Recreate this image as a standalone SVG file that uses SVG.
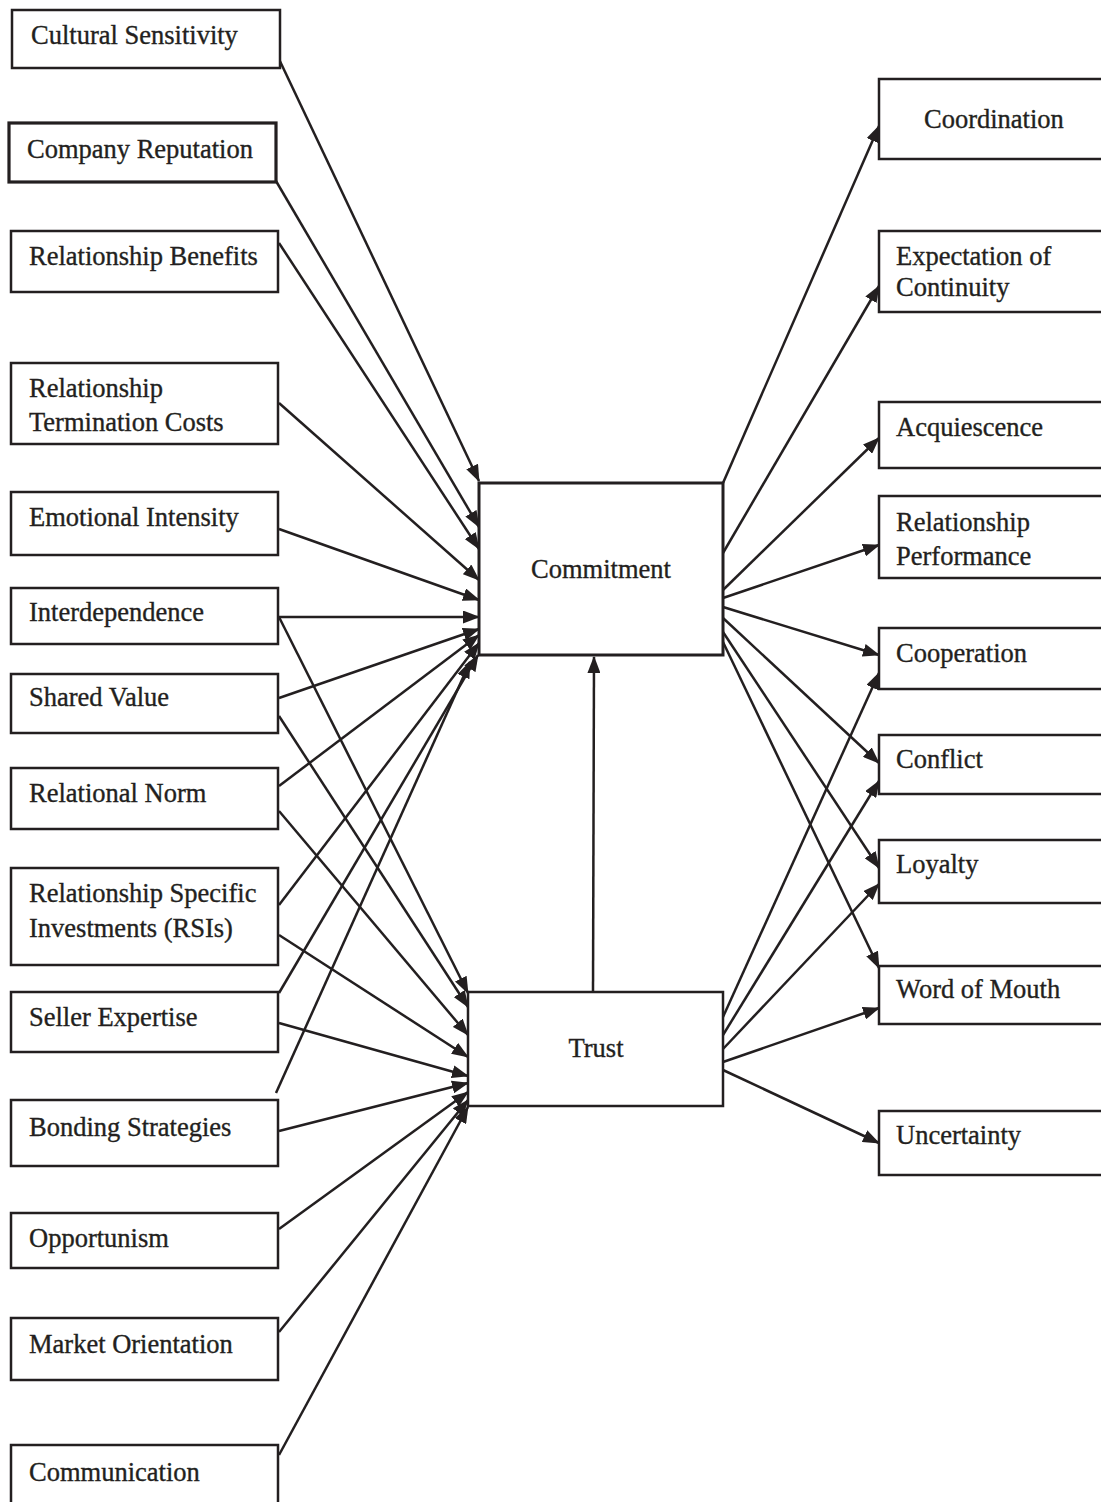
<svg xmlns="http://www.w3.org/2000/svg" width="1101" height="1502" viewBox="0 0 1101 1502">
<style>
.box{fill:#fff;stroke:#231f20;stroke-width:2.5}
.lbl{font-family:"Liberation Serif","Times New Roman",serif;font-size:26.5px;fill:#231f20;stroke:#231f20;stroke-width:0.35}
.c{text-anchor:middle}
.ln{stroke:#231f20;stroke-width:2.5;fill:none;marker-end:url(#ah)}
</style>
<defs>
<marker id="ah" markerUnits="userSpaceOnUse" markerWidth="17" markerHeight="13" refX="16" refY="6.5" orient="auto">
<path d="M0,0 L17,6.5 L0,13 z" fill="#231f20"/>
</marker>
</defs>
<rect width="1101" height="1502" fill="#fff"/>

<g id="connectors">
<line class="ln" x1="278" y1="57" x2="479" y2="481"/>
<line class="ln" x1="276" y1="181" x2="479" y2="527"/>
<line class="ln" x1="279" y1="243" x2="479" y2="549"/>
<line class="ln" x1="279" y1="403" x2="479" y2="580"/>
<line class="ln" x1="279" y1="529" x2="479" y2="600"/>
<line class="ln" x1="279" y1="617" x2="479" y2="617"/>
<line class="ln" x1="279" y1="698" x2="479" y2="629"/>
<line class="ln" x1="279" y1="786" x2="479" y2="635"/>
<line class="ln" x1="279" y1="905" x2="479" y2="643"/>
<line class="ln" x1="279" y1="993" x2="478" y2="655"/>
<line class="ln" x1="276" y1="1093" x2="470" y2="662"/>
<line class="ln" x1="279" y1="617" x2="468" y2="993"/>
<line class="ln" x1="279" y1="716" x2="468" y2="1007"/>
<line class="ln" x1="279" y1="811" x2="468" y2="1035"/>
<line class="ln" x1="279" y1="935" x2="468" y2="1057"/>
<line class="ln" x1="279" y1="1023" x2="468" y2="1076"/>
<line class="ln" x1="279" y1="1131" x2="468" y2="1083"/>
<line class="ln" x1="279" y1="1229" x2="468" y2="1092"/>
<line class="ln" x1="279" y1="1332" x2="468" y2="1100"/>
<line class="ln" x1="279" y1="1455" x2="468" y2="1107"/>
<line class="ln" x1="593" y1="992" x2="594" y2="657"/>
<line class="ln" x1="723" y1="483" x2="879" y2="126"/>
<line class="ln" x1="723" y1="553" x2="879" y2="286"/>
<line class="ln" x1="723" y1="590" x2="879" y2="438"/>
<line class="ln" x1="723" y1="598" x2="879" y2="545"/>
<line class="ln" x1="723" y1="607" x2="879" y2="655"/>
<line class="ln" x1="723" y1="618" x2="879" y2="763"/>
<line class="ln" x1="723" y1="632" x2="879" y2="868"/>
<line class="ln" x1="723" y1="642" x2="879" y2="968"/>
<line class="ln" x1="723" y1="1017" x2="879" y2="673"/>
<line class="ln" x1="723" y1="1035" x2="879" y2="781"/>
<line class="ln" x1="723" y1="1049" x2="879" y2="884"/>
<line class="ln" x1="723" y1="1062" x2="879" y2="1008"/>
<line class="ln" x1="723" y1="1070" x2="879" y2="1143"/>
</g>

<g id="n-cultural"><rect class="box" x="12" y="10" width="268" height="58"/><text class="lbl" x="31" y="44">Cultural Sensitivity</text></g>
<g id="n-reputation"><rect class="box" x="9" y="123" width="267" height="59" style="stroke-width:3.2"/><text class="lbl" x="27" y="158">Company Reputation</text></g>
<g id="n-benefits"><rect class="box" x="11" y="231" width="267" height="61"/><text class="lbl" x="29" y="265">Relationship Benefits</text></g>
<g id="n-termination"><rect class="box" x="11" y="363" width="267" height="81"/><text class="lbl" x="29" y="397">Relationship</text><text class="lbl" x="29" y="431">Termination Costs</text></g>
<g id="n-emotional"><rect class="box" x="11" y="492" width="267" height="63"/><text class="lbl" x="29" y="526">Emotional Intensity</text></g>
<g id="n-interdependence"><rect class="box" x="11" y="588" width="267" height="56"/><text class="lbl" x="29" y="621">Interdependence</text></g>
<g id="n-shared"><rect class="box" x="11" y="674" width="267" height="59"/><text class="lbl" x="29" y="706">Shared Value</text></g>
<g id="n-norm"><rect class="box" x="11" y="768" width="267" height="61"/><text class="lbl" x="29" y="802">Relational Norm</text></g>
<g id="n-rsi"><rect class="box" x="11" y="868" width="267" height="97"/><text class="lbl" x="29" y="902">Relationship Specific</text><text class="lbl" x="29" y="937">Investments (RSIs)</text></g>
<g id="n-seller"><rect class="box" x="11" y="992" width="267" height="60"/><text class="lbl" x="29" y="1026">Seller Expertise</text></g>
<g id="n-bonding"><rect class="box" x="11" y="1100" width="267" height="66"/><text class="lbl" x="29" y="1136">Bonding Strategies</text></g>
<g id="n-opportunism"><rect class="box" x="11" y="1213" width="267" height="55"/><text class="lbl" x="29" y="1247">Opportunism</text></g>
<g id="n-market"><rect class="box" x="11" y="1318" width="267" height="62"/><text class="lbl" x="29" y="1353">Market Orientation</text></g>
<g id="n-communication"><rect class="box" x="11" y="1445" width="267" height="70"/><text class="lbl" x="29" y="1481">Communication</text></g>

<g id="n-commitment"><rect class="box" x="479" y="483" width="244" height="172" style="stroke-width:3"/><text class="lbl c" x="601" y="578">Commitment</text></g>
<g id="n-trust"><rect class="box" x="468" y="992" width="255" height="114"/><text class="lbl c" x="596" y="1057">Trust</text></g>

<g id="n-coordination"><rect class="box" x="879" y="79" width="240" height="80"/><text class="lbl" x="924" y="128">Coordination</text></g>
<g id="n-expectation"><rect class="box" x="879" y="231" width="240" height="81"/><text class="lbl" x="896" y="265">Expectation of</text><text class="lbl" x="896" y="296">Continuity</text></g>
<g id="n-acquiescence"><rect class="box" x="879" y="402" width="240" height="66"/><text class="lbl" x="896" y="436">Acquiescence</text></g>
<g id="n-performance"><rect class="box" x="879" y="496" width="240" height="82"/><text class="lbl" x="896" y="531">Relationship</text><text class="lbl" x="896" y="565">Performance</text></g>
<g id="n-cooperation"><rect class="box" x="879" y="628" width="240" height="61"/><text class="lbl" x="896" y="662">Cooperation</text></g>
<g id="n-conflict"><rect class="box" x="879" y="735" width="240" height="59"/><text class="lbl" x="896" y="768">Conflict</text></g>
<g id="n-loyalty"><rect class="box" x="879" y="840" width="240" height="63"/><text class="lbl" x="896" y="873">Loyalty</text></g>
<g id="n-wom"><rect class="box" x="879" y="966" width="240" height="58"/><text class="lbl" x="896" y="998">Word of Mouth</text></g>
<g id="n-uncertainty"><rect class="box" x="879" y="1111" width="240" height="64"/><text class="lbl" x="896" y="1144">Uncertainty</text></g>
</svg>
